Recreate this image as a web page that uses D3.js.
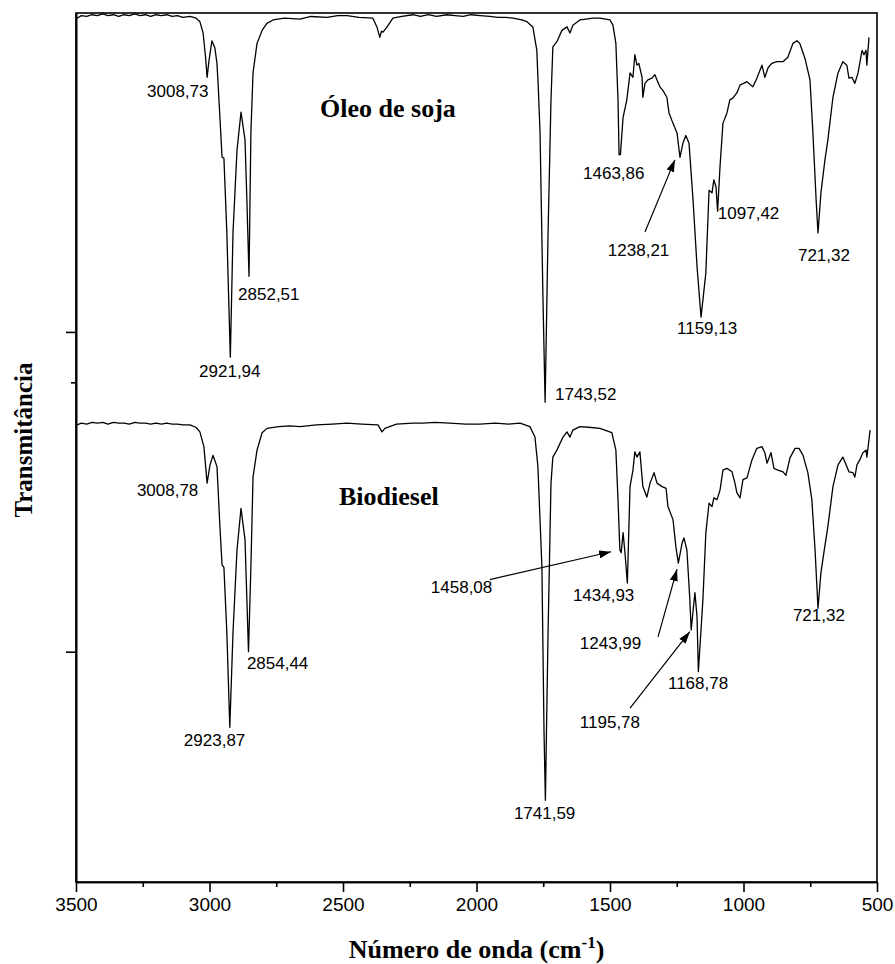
<!DOCTYPE html>
<html>
<head>
<meta charset="utf-8">
<script src="https://cdn.jsdelivr.net/npm/d3@7"></script>
<style>
  body { margin: 0; background: #fff; }
  .axis text { font-family: "Liberation Sans", Arial, sans-serif; font-size: 19px; fill: #000; }
  .axis path, .axis line { stroke: #000; stroke-width: 1.6px; }
  .peak { font-family: "Liberation Sans", Arial, sans-serif; font-size: 17px; fill: #000; }
  .title { font-family: "Liberation Serif", "Times New Roman", serif; font-weight: bold; fill: #000; }
</style>
</head>
<body>
<script>
// IR spectra: wavenumber (cm-1), transmittance (arbitrary units, stacked)
var oleo = [
  [3496, 99.4], [3480, 99.7], [3460, 99.6], [3440, 99.8], [3420, 99.7], [3400, 99.9],
  [3380, 99.7], [3360, 99.8], [3340, 99.6], [3320, 99.8], [3300, 99.7], [3280, 99.9],
  [3260, 99.7], [3240, 99.8], [3220, 99.6], [3200, 99.8], [3180, 99.7], [3160, 99.8],
  [3140, 99.6], [3120, 99.7], [3100, 99.5], [3073, 99.6], [3050, 99.4], [3036, 99.0],
  [3024, 97.7], [3015, 95.0], [3009, 92.6], [3002, 94.5], [2991, 96.8], [2980, 96.0],
  [2972, 94.2], [2961, 88.0], [2953, 83.4], [2946, 83.3], [2935, 74.7], [2922, 60.4],
  [2912, 74.7], [2897, 84.2], [2882, 88.6], [2867, 85.4], [2860, 78.5], [2852, 69.7],
  [2845, 86.2], [2837, 93.1], [2822, 96.5], [2803, 98.0], [2785, 98.8], [2762, 99.2],
  [2720, 99.4], [2661, 99.3], [2620, 99.6], [2560, 99.5], [2520, 99.7], [2485, 99.7],
  [2440, 99.5], [2388, 99.4], [2373, 98.4], [2362, 97.2], [2356, 97.9], [2350, 97.8],
  [2335, 98.4], [2313, 99.4], [2280, 99.6], [2238, 99.8], [2210, 99.6], [2180, 99.8],
  [2150, 99.6], [2111, 99.8], [2080, 99.7], [2050, 99.6], [2020, 99.8], [1987, 99.7],
  [1950, 99.6], [1920, 99.5], [1890, 99.5], [1863, 99.4], [1830, 99.2], [1811, 99.0],
  [1789, 98.4], [1774, 95.7], [1762, 86.2], [1751, 67.0], [1743, 55.2], [1732, 74.7],
  [1721, 90.0], [1714, 96.1], [1699, 96.7], [1680, 98.0], [1661, 98.4], [1650, 97.7],
  [1639, 98.6], [1613, 99.2], [1590, 99.3], [1564, 99.4], [1538, 99.4], [1500, 99.2],
  [1489, 98.6], [1478, 96.5], [1470, 90.0], [1466, 83.7], [1461, 83.7], [1451, 88.0],
  [1437, 90.0], [1425, 93.1], [1414, 92.6], [1407, 95.2], [1399, 94.0], [1392, 94.2],
  [1380, 92.6], [1377, 90.3], [1369, 91.9], [1358, 92.3], [1343, 92.5], [1332, 92.9],
  [1324, 92.3], [1313, 91.5], [1302, 91.1], [1287, 90.3], [1279, 88.5], [1264, 87.3],
  [1249, 86.2], [1238, 83.4], [1227, 85.0], [1216, 85.9], [1204, 85.0], [1189, 78.5],
  [1174, 70.8], [1159, 65.0], [1141, 70.1], [1129, 79.6], [1118, 79.3], [1111, 80.8],
  [1103, 80.0], [1097, 77.2], [1088, 82.3], [1077, 87.3], [1062, 88.5], [1051, 90.0],
  [1040, 90.2], [1025, 90.8], [1013, 91.7], [987, 92.1], [965, 91.5], [950, 92.5],
  [931, 94.0], [920, 92.6], [908, 93.7], [894, 94.2], [875, 94.4], [852, 94.4],
  [834, 94.9], [815, 96.5], [800, 96.8], [789, 96.5], [770, 94.8], [751, 92.3],
  [740, 86.2], [728, 78.5], [721, 74.7], [710, 79.3], [695, 83.1], [684, 85.4],
  [665, 90.3], [646, 93.1], [628, 94.4], [613, 94.0], [605, 92.5], [594, 92.6],
  [583, 91.9], [571, 93.1], [556, 95.7], [549, 95.2], [541, 95.7], [538, 94.0],
  [530, 97.2]
];

var biodiesel = [
  [3496, 52.6], [3480, 52.8], [3460, 52.7], [3440, 52.9], [3420, 52.8], [3400, 52.9],
  [3380, 52.7], [3360, 52.9], [3340, 52.8], [3320, 52.8], [3300, 52.7], [3280, 52.9],
  [3260, 52.8], [3240, 52.8], [3220, 52.7], [3200, 52.8], [3180, 52.7], [3160, 52.8],
  [3140, 52.7], [3120, 52.7], [3100, 52.6], [3073, 52.6], [3050, 52.3], [3036, 51.8],
  [3021, 50.1], [3009, 45.9], [2998, 48.0], [2987, 49.1], [2972, 47.8], [2961, 40.9],
  [2953, 36.5], [2946, 36.2], [2935, 28.7], [2924, 17.8], [2912, 28.7], [2897, 38.2],
  [2882, 43.0], [2867, 39.4], [2860, 32.5], [2854, 26.5], [2845, 36.2], [2837, 46.6],
  [2822, 49.7], [2803, 51.7], [2785, 52.2], [2740, 52.4], [2700, 52.5], [2661, 52.4],
  [2600, 52.6], [2540, 52.7], [2485, 52.8], [2430, 52.7], [2369, 52.6], [2354, 51.8],
  [2343, 52.2], [2300, 52.7], [2238, 52.8], [2200, 52.8], [2156, 52.9], [2100, 52.8],
  [2040, 52.7], [1987, 52.7], [1930, 52.8], [1880, 52.7], [1837, 52.8], [1800, 52.4],
  [1781, 51.2], [1770, 47.8], [1755, 36.2], [1747, 17.1], [1742, 9.4], [1732, 28.7],
  [1721, 45.9], [1714, 48.9], [1699, 49.7], [1676, 51.2], [1661, 51.8], [1650, 51.2],
  [1639, 52.0], [1613, 52.4], [1570, 52.3], [1538, 52.2], [1493, 51.7], [1478, 49.7],
  [1470, 44.0], [1463, 38.2], [1458, 37.9], [1451, 40.2], [1444, 37.9], [1435, 34.4],
  [1425, 45.5], [1414, 47.4], [1407, 49.5], [1399, 48.9], [1388, 49.5], [1377, 45.5],
  [1362, 44.3], [1350, 45.9], [1335, 47.1], [1324, 45.9], [1305, 45.5], [1290, 45.3],
  [1283, 43.2], [1264, 41.7], [1253, 38.5], [1244, 36.7], [1230, 39.0], [1223, 39.6],
  [1212, 38.2], [1201, 32.5], [1196, 29.0], [1182, 33.3], [1174, 30.5], [1169, 24.2],
  [1152, 32.5], [1141, 40.2], [1129, 43.6], [1118, 43.2], [1111, 44.2], [1099, 44.0],
  [1088, 45.1], [1077, 47.4], [1062, 47.6], [1043, 47.2], [1032, 45.9], [1025, 44.8],
  [1013, 44.2], [1002, 46.3], [987, 46.5], [968, 48.6], [950, 49.9], [931, 50.1],
  [920, 49.4], [912, 48.2], [897, 49.4], [886, 47.6], [871, 47.4], [852, 47.2],
  [841, 46.8], [826, 48.8], [807, 49.9], [792, 49.9], [777, 49.1], [759, 47.1],
  [744, 44.0], [732, 38.2], [721, 31.5], [710, 35.6], [699, 37.9], [684, 40.9],
  [665, 45.5], [646, 48.0], [628, 48.9], [613, 47.8], [605, 47.2], [590, 47.1],
  [583, 46.6], [575, 48.0], [564, 48.6], [553, 49.4], [541, 49.7], [538, 48.9],
  [530, 50.9], [526, 52.0]
];

// peak labels: text, wavenumber and transmittance of the text's left baseline
var oleoLabels = [
  ["3008,73", 3234, 90.3], ["2921,94", 3039, 58.1], ["2852,51", 2893, 67.0],
  ["1743,52", 1706, 55.5], ["1463,86", 1601, 80.9], ["1238,21", 1508, 72.0],
  ["1097,42", 1096, 76.3], ["721,32", 796, 71.5], ["1159,13", 1249, 63.1]
];
var biodieselLabels = [
  ["3008,78", 3272, 44.4], ["2923,87", 3096, 15.7], ["2854,44", 2860, 24.5],
  ["1741,59", 1860, 7.2], ["1458,08", 2171, 33.3], ["1434,93", 1639, 32.3],
  ["1243,99", 1613, 26.8], ["1195,78", 1613, 17.7], ["1168,78", 1283, 22.2],
  ["721,32", 815, 30.0]
];
// arrows: [from wavenumber, from T, to wavenumber, to T]
var arrows = [
  [1369, 74.8, 1257, 83.1],
  [1950, 34.8, 1496, 38.0],
  [1320, 28.2, 1249, 36.0],
  [1425, 20.0, 1201, 28.8]
];
var sampleNames = [["Óleo de soja", 2586, 88.0], ["Biodiesel", 2515, 43.4]];

var xMajorTicks = [3500, 3000, 2500, 2000, 1500, 1000, 500];
var xMinorTicks = [3250, 2750, 2250, 1750, 1250, 750];
var yMajorTicks = [26.5, 63.3];
var yMinorTicks = [57.5];

// Set the dimensions and margins of the graph
var margin = { top: 13, right: 18, bottom: 82, left: 76 },
    width = 895 - margin.left - margin.right,
    height = 964 - margin.top - margin.bottom;

var svg = d3.select("body")
    .append("svg")
    .attr("width", width + margin.left + margin.right)
    .attr("height", height + margin.top + margin.bottom)
    .append("g")
    .attr("transform", "translate(" + margin.left + "," + margin.top + ")");

var x = d3.scaleLinear().domain([3500, 500]).range([0, width]);
var y = d3.scaleLinear().domain([0, 100]).range([height, 0]);

// frame
svg.append("rect")
    .attr("width", width)
    .attr("height", height)
    .attr("fill", "none")
    .attr("stroke", "#000")
    .attr("stroke-width", 1.6);

// X axis, major and minor ticks
svg.append("g")
    .attr("class", "axis")
    .attr("transform", "translate(0," + height + ")")
    .call(d3.axisBottom(x).tickValues(xMajorTicks).tickSize(10).tickSizeOuter(0).tickPadding(6)
        .tickFormat(d3.format("d")));
svg.append("g")
    .attr("class", "axis")
    .attr("transform", "translate(0," + height + ")")
    .call(d3.axisBottom(x).tickValues(xMinorTicks).tickSize(5).tickSizeOuter(0).tickFormat(""));

// Y axis, no labels
svg.append("g")
    .attr("class", "axis")
    .call(d3.axisLeft(y).tickValues(yMajorTicks).tickSize(10).tickSizeOuter(0).tickFormat(""));
svg.append("g")
    .attr("class", "axis")
    .call(d3.axisLeft(y).tickValues(yMinorTicks).tickSize(5).tickSizeOuter(0).tickFormat(""));

// spectra
var line = d3.line()
    .x(function (d) { return x(d[0]); })
    .y(function (d) { return y(d[1]); });

[oleo, biodiesel].forEach(function (s) {
    svg.append("path")
        .datum(s)
        .attr("fill", "none")
        .attr("stroke", "#000")
        .attr("stroke-width", 1.3)
        .attr("stroke-linejoin", "round")
        .attr("d", line);
});

// peak labels
svg.selectAll(".peak")
    .data(oleoLabels.concat(biodieselLabels))
    .enter().append("text")
    .attr("class", "peak")
    .attr("x", function (d) { return x(d[1]); })
    .attr("y", function (d) { return y(d[2]); })
    .text(function (d) { return d[0]; });

// arrows
svg.append("defs").append("marker")
    .attr("id", "head")
    .attr("viewBox", "0 0 12 8")
    .attr("refX", 12)
    .attr("refY", 4)
    .attr("markerWidth", 12)
    .attr("markerHeight", 8)
    .attr("markerUnits", "userSpaceOnUse")
    .attr("orient", "auto")
    .append("path")
    .attr("d", "M0,0 L12,4 L0,8 Z")
    .attr("fill", "#000");

svg.selectAll(".arrow")
    .data(arrows)
    .enter().append("line")
    .attr("class", "arrow")
    .attr("x1", function (d) { return x(d[0]); })
    .attr("y1", function (d) { return y(d[1]); })
    .attr("x2", function (d) { return x(d[2]); })
    .attr("y2", function (d) { return y(d[3]); })
    .attr("stroke", "#000")
    .attr("stroke-width", 1.2)
    .attr("marker-end", "url(#head)");

// sample names
svg.selectAll(".sample")
    .data(sampleNames)
    .enter().append("text")
    .attr("class", "title")
    .style("font-size", "26px")
    .attr("x", function (d) { return x(d[1]); })
    .attr("y", function (d) { return y(d[2]); })
    .text(function (d) { return d[0]; });

// axis titles
var xt = svg.append("text")
    .attr("class", "title")
    .style("font-size", "26px")
    .attr("text-anchor", "middle")
    .attr("x", width / 2)
    .attr("y", height + 76);
xt.append("tspan").text("Número de onda (cm");
xt.append("tspan").attr("dy", -10).style("font-size", "17px").text("-1");
xt.append("tspan").attr("dy", 10).text(")");

svg.append("text")
    .attr("class", "title")
    .style("font-size", "25px")
    .attr("text-anchor", "middle")
    .attr("transform", "translate(" + (32 - margin.left) + "," + (440 - margin.top) + ") rotate(-90)")
    .text("Transmitância");
</script>
</body>
</html>
